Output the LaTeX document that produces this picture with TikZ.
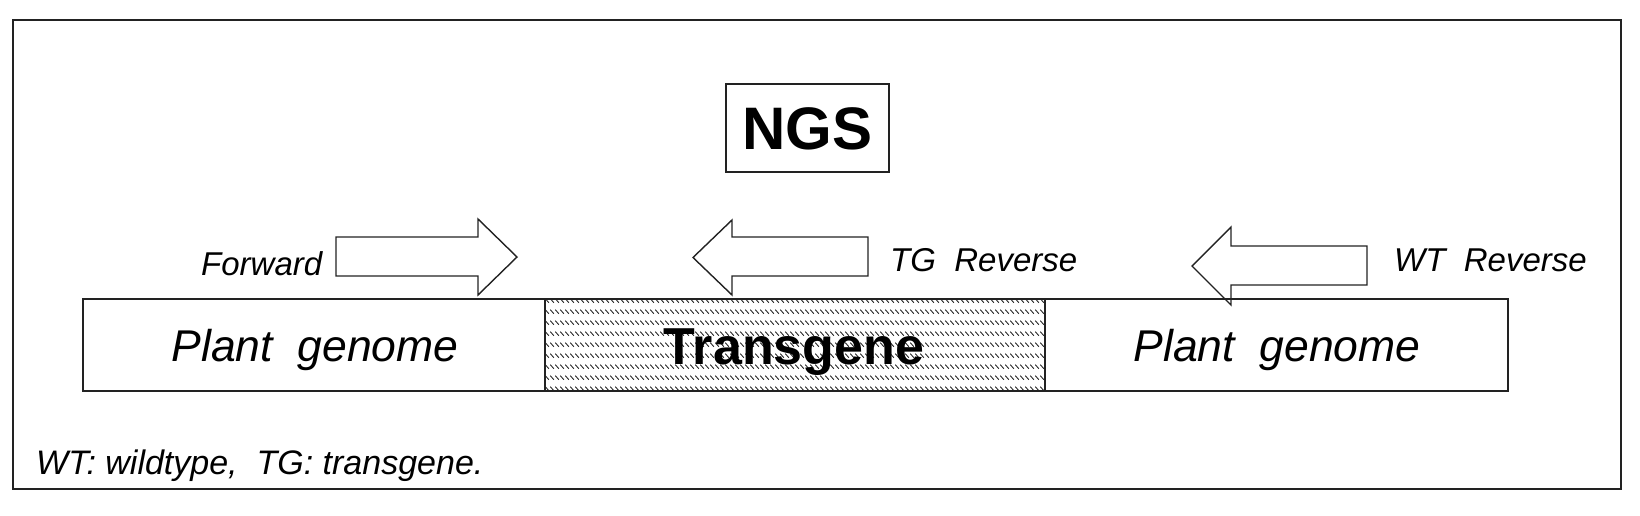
\documentclass[tikz,border=0pt]{standalone}
\usepackage{fontspec}
\setmainfont{Liberation Sans}
\usetikzlibrary{patterns}
\pgfdeclarepatternformonly{tghatch}{\pgfpointorigin}{\pgfqpoint{5pt}{11pt}}{\pgfqpoint{5pt}{11pt}}{%
  \pgfsetlinewidth{1pt}%
  \pgfpathmoveto{\pgfqpoint{0.3pt}{9pt}}%
  \pgfpathlineto{\pgfqpoint{4.7pt}{4.6pt}}%
  \pgfusepath{stroke}}
\definecolor{ln}{HTML}{222222}
\begin{document}
\begin{tikzpicture}[x=1pt,y=-1pt,
  frame/.style={draw=ln,line width=2pt},
  barline/.style={draw=ln,line width=2pt},
  arrowshape/.style={draw=ln,line width=1.4pt,line join=miter},
  lbl/.style={inner sep=0pt,font=\fontsize{33}{37}\selectfont\itshape},
  seglbl/.style={inner sep=0pt,font=\fontsize{44.5}{50}\selectfont\itshape},
  tglbl/.style={inner sep=0pt,font=\fontsize{52}{58}\selectfont\bfseries},
  ngslbl/.style={inner sep=0pt,font=\fontsize{60}{66}\selectfont\bfseries}]
\useasboundingbox (0,0) rectangle (1640,515);
% outer frame
\draw[frame] (13,20) rectangle (1621,489);
% NGS box
\draw[frame,line width=1.6pt] (726,84) rectangle (889,172);
\node[ngslbl,anchor=base] (ngs) at (807.5,149) {NGS};
% genome bar
\fill[pattern=tghatch,pattern color=ln] (545,299) rectangle (1045,391);
\draw[barline] (83,299) rectangle (1508,391);
\draw[barline] (545,299) -- (545,391);
\draw[barline] (1045,299) -- (1045,391);
\node[seglbl,anchor=base] (pgl) at (315,361) {Plant\ \ genome};
\node[tglbl,anchor=base] (tg) at (794,364) {Transgene};
\node[seglbl,anchor=base] (pgr) at (1277,361) {Plant\ \ genome};
% primer arrows
\draw[arrowshape] (336,237) -- (478,237) -- (478,219) -- (517,257) -- (478,295) -- (478,276) -- (336,276) -- cycle;
\draw[arrowshape] (868,237) -- (732,237) -- (732,220) -- (693,257.5) -- (732,295) -- (732,276) -- (868,276) -- cycle;
\draw[arrowshape] (1367,246) -- (1231,246) -- (1231,227) -- (1192,266) -- (1231,305) -- (1231,285) -- (1367,285) -- cycle;
\node[lbl,anchor=base west] (fw) at (201,275) {Forward};
\node[lbl,anchor=base west] (tgr) at (890,271) {TG\ \ Reverse};
\node[lbl,anchor=base west] (wtr) at (1394,271) {WT\ \ Reverse};
% footnote
\node[inner sep=0pt,anchor=base west,font=\fontsize{34}{38}\selectfont\itshape] (note) at (36,474) {WT: wildtype,\ \ TG: transgene.};
\end{tikzpicture}
\end{document}
